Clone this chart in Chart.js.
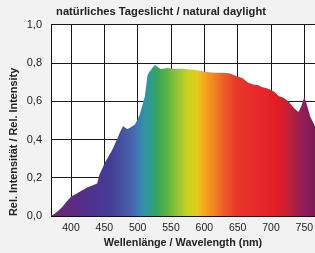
<!DOCTYPE html>
<html>
<head>
<meta charset="utf-8">
<script src="https://cdn.jsdelivr.net/npm/chart.js@4"></script>
<style>
  html, body { margin: 0; padding: 0; background: #f2f2f2; }
  #wrap { width: 315px; height: 253px; }
</style>
</head>
<body>
<div id="wrap"><canvas id="spectrum"></canvas></div>
<script>
// spectrum
const wavelengths = [370, 375, 385, 392, 400, 410, 425, 439, 442, 451, 461, 470, 478, 485, 496, 503, 511, 515, 521, 526, 530, 535, 545, 555, 570, 585, 600, 615, 630, 640, 650, 658, 665, 672, 680, 686, 692, 700, 705, 711, 718, 726, 733, 741, 746, 750, 754, 759, 766];
const intensity   = [0.0, 0.01, 0.04, 0.07, 0.10, 0.12, 0.15, 0.17, 0.21, 0.28, 0.34, 0.41, 0.47, 0.455, 0.48, 0.53, 0.63, 0.74, 0.77, 0.79, 0.78, 0.77, 0.775, 0.77, 0.77, 0.765, 0.755, 0.75, 0.75, 0.745, 0.73, 0.72, 0.70, 0.69, 0.685, 0.675, 0.67, 0.66, 0.65, 0.63, 0.62, 0.60, 0.57, 0.545, 0.58, 0.62, 0.58, 0.52, 0.47];
const xTicks = [400, 450, 500, 550, 600, 650, 700, 750];
const yTicks = [0, 0.2, 0.4, 0.6, 0.8, 1.0];

// colour of the fill at a given wavelength
const stopNm  = [370, 400, 430, 460, 490, 500, 510, 520, 530, 545, 560, 575, 590, 600, 615, 630, 650, 690, 710, 725, 740, 750, 766];
const stopCol = ['#6b2b72', '#5f2a80', '#4f3190', '#433e95', '#4862aa', '#4277b5', '#2f95a8', '#2d9c8a', '#3aa65a', '#5db440', '#95c436', '#c8d31f', '#e5c81a', '#f5a61a', '#f28322', '#ec5a28', '#e8352a', '#e5262a', '#e11c24', '#c71f35', '#a01e4c', '#8e1e58', '#7d1a55'];

const points = wavelengths.map((w, i) => ({ x: w, y: intensity[i] }));

function spectrumFill(context) {
  const chart = context.chart;
  const area = chart.chartArea;
  if (!area) return '#888';
  const xs = chart.scales.x;
  const g = chart.ctx.createLinearGradient(area.left, 0, area.right, 0);
  stopNm.forEach((nm, i) => {
    const p = (xs.getPixelForValue(nm) - area.left) / (area.right - area.left);
    g.addColorStop(Math.min(1, Math.max(0, p)), stopCol[i]);
  });
  return g;
}

const whitePlot = {
  id: 'whitePlot',
  beforeDraw(chart) {
    const a = chart.chartArea;
    chart.ctx.save();
    chart.ctx.fillStyle = '#ffffff';
    chart.ctx.fillRect(a.left, a.top, a.right - a.left, a.bottom - a.top);
    chart.ctx.restore();
  }
};

Chart.defaults.font.family = '"Liberation Sans", Arial, sans-serif';
Chart.defaults.color = '#222';

new Chart(document.getElementById('spectrum'), {
  type: 'line',
  data: {
    datasets: [{
      data: points,
      fill: 'origin',
      backgroundColor: spectrumFill,
      borderWidth: 0,
      pointRadius: 0,
      tension: 0.1
    }]
  },
  options: {
    responsive: true,
    maintainAspectRatio: false,
    animation: false,
    layout: { padding: { left: 7, right: 0, top: 0, bottom: 0 } },
    plugins: {
      legend: { display: false },
      tooltip: { enabled: false },
      title: {
        display: true,
        text: 'natürliches Tageslicht / natural daylight',
        font: { size: 11.2, weight: 'bold' },
        color: '#222',
        padding: { top: 5, bottom: 6.5 }
      }
    },
    scales: {
      x: {
        type: 'linear',
        min: 370,
        max: 766,
        afterBuildTicks: s => { s.ticks = xTicks.map(v => ({ value: v })); },
        afterFit: s => { s.height = 37; s.paddingLeft = 0; s.paddingRight = 0; },
        grid: { color: '#1a1a1a', lineWidth: 1, drawTicks: false },
        border: { color: '#111', width: 1 },
        ticks: { font: { size: 10.5 }, color: '#222', padding: 6, maxRotation: 0 },
        title: {
          display: true,
          text: 'Wellenlänge / Wavelength (nm)',
          font: { size: 10.8, weight: 'bold' },
          color: '#222',
          padding: { top: 0, bottom: 3 }
        }
      },
      y: {
        min: 0,
        max: 1,
        afterBuildTicks: s => { s.ticks = yTicks.map(v => ({ value: v })); },
        afterFit: s => { s.width = 44; s.paddingTop = 0; s.paddingBottom = 0; },
        grid: { color: '#1a1a1a', lineWidth: 1, drawTicks: false },
        border: { color: '#111', width: 1 },
        ticks: {
          font: { size: 11 },
          color: '#222',
          padding: 9,
          callback: v => v.toFixed(1).replace('.', ',')
        },
        title: {
          display: true,
          text: 'Rel. Intensität / Rel. Intensity',
          align: 'start',
          font: { size: 10.9, weight: 'bold' },
          color: '#222',
          padding: { top: 0, bottom: 0 }
        }
      }
    }
  },
  plugins: [whitePlot]
});
</script>
</body>
</html>
